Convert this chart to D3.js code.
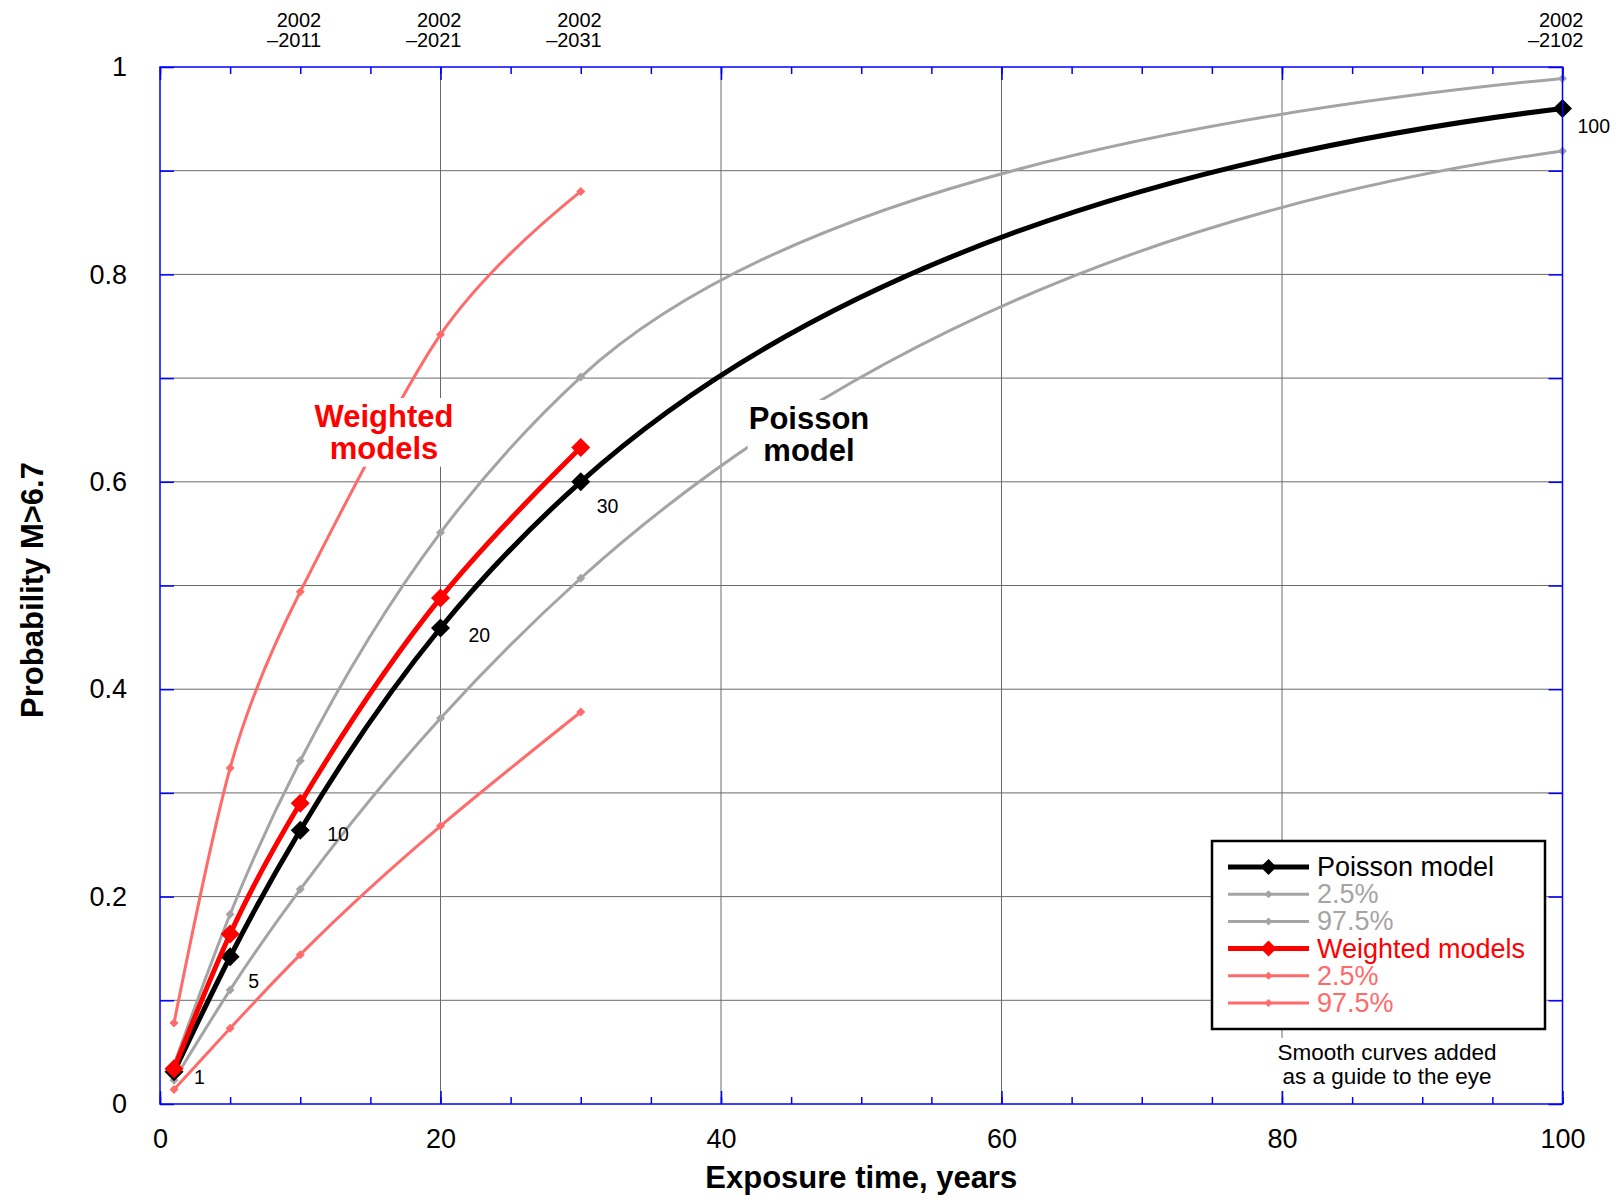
<!DOCTYPE html>
<html>
<head>
    <meta charset="utf-8">
    <style>
        body {
            margin: 0;
            background: #fff;
        }

        svg {
            display: block;
            font-family: 'Liberation Sans', Arial, Helvetica, sans-serif;
        }

        .grid line {
            stroke: #6a6a6a;
            stroke-width: 1px;
        }

        .frame {
            fill: none;
            stroke: #0000ff;
            stroke-width: 1.5px;
        }

        .ticks line {
            stroke: #0000ff;
            stroke-width: 1.5px;
        }

        .ticks .domain,
        .labels .domain {
            display: none;
        }

        .axis-title {
            font-weight: bold;
            font-size: 31px;
        }

        .point-label {
            font-size: 19.5px;
        }

        .period {
            font-size: 20px;
        }
    </style>
</head>

<body>
    <svg class="chart" width="1616" height="1204"></svg>

<script src="https://d3js.org/d3.v7.min.js"></script>

<script>
    // values
    const years = [1, 5, 10, 20, 30, 100];
    const poisson = [0.031, 0.142, 0.264, 0.459, 0.600, 0.960];
    const poissonLo = [0.023, 0.110, 0.207, 0.372, 0.507, 0.919];
    const poissonHi = [0.038, 0.183, 0.331, 0.551, 0.701, 0.989];

    const weightedYears = [1, 5, 10, 20, 30];
    const weighted = [0.034, 0.164, 0.290, 0.488, 0.633];
    const weightedLo = [0.014, 0.073, 0.144, 0.268, 0.378];
    const weightedHi = [0.078, 0.324, 0.494, 0.742, 0.880];

    const pointLabels = ["1", "5", "10", "20", "30", "100"];

    const periodYears = [10, 20, 30, 100];
    const periodLabels = [["2002", "\u20132011"], ["2002", "\u20132021"], ["2002", "\u20132031"], ["2002", "\u20132102"]];

    const xTicks = [0, 20, 40, 60, 80, 100];
    const xMinorTicks = d3.range(0, 101, 5);
    const yTicks = [0, 0.2, 0.4, 0.6, 0.8, 1];
    const yMinorTicks = d3.range(0, 11).map(d => d / 10);

    const legendNames = ["Poisson model", "2.5%", "97.5%", "Weighted models", "2.5%", "97.5%"];

    const width = 1616;
    const height = 1204;
    const margin = {top: 67, right: 53.5, bottom: 100, left: 160};

    const GRAY = "#a4a4a4";
    const PINK = "#ff6b6b";

    let svg = d3.select(".chart");

    let x = d3.scaleLinear()
        .domain([0, 100])
        .range([margin.left, width - margin.right]);

    let y = d3.scaleLinear()
        .domain([0, 1])
        .range([height - margin.bottom, margin.top]);

    // smooth curve through the points, as a function of x.
    // knot slopes come from a cubic spline (natural start; natural end, or
    // end slope = endFactor * last secant); each span is then drawn as the
    // quadratic that meets both tangents, so long spans stay concave.
    function curveSmoothX(endFactor) {
        return function(context) {
            let xs, ys;
            return {
                areaStart() {},
                areaEnd() {},
                lineStart() { xs = []; ys = []; },
                point(px, py) { xs.push(+px); ys.push(+py); },
                lineEnd() {
                    let n = xs.length;
                    if (!n) return;
                    context.moveTo(xs[0], ys[0]);
                    if (n < 3) {
                        if (n === 2) context.lineTo(xs[1], ys[1]);
                        return;
                    }
                    let h = [], d = [];
                    for (let i = 0; i < n - 1; i++) {
                        h.push(xs[i + 1] - xs[i]);
                        d.push((ys[i + 1] - ys[i]) / h[i]);
                    }
                    let a = [], b = [], c = [], r = [];
                    for (let i = 1; i <= n - 2; i++) {
                        a.push(h[i - 1]);
                        b.push(2 * (h[i - 1] + h[i]));
                        c.push(h[i]);
                        r.push(6 * (d[i] - d[i - 1]));
                    }
                    if (endFactor != null) {
                        let k = n - 2;
                        a.push(h[k]);
                        b.push(2 * h[k]);
                        c.push(0);
                        r.push(6 * (endFactor * d[k] - d[k]));
                    }
                    let m = b.length;
                    for (let i = 1; i < m; i++) {
                        let w = a[i] / b[i - 1];
                        b[i] -= w * c[i - 1];
                        r[i] -= w * r[i - 1];
                    }
                    let M = new Array(n).fill(0);
                    for (let i = m - 1; i >= 0; i--) {
                        M[i + 1] = (r[i] - (i < m - 1 ? c[i] * M[i + 2] : 0)) / b[i];
                    }
                    for (let i = 0; i < n - 1; i++) {
                        let x0 = xs[i], y0 = ys[i], x1 = xs[i + 1], y1 = ys[i + 1];
                        let s0 = d[i] - h[i] * (2 * M[i] + M[i + 1]) / 6;
                        let s1 = d[i] + h[i] * (M[i] + 2 * M[i + 1]) / 6;
                        let xc = Math.abs(s0 - s1) > 1e-9 ? (y1 - y0 + s0 * x0 - s1 * x1) / (s0 - s1) : NaN;
                        if (xc > x0 + 0.05 * h[i] && xc < x1 - 0.05 * h[i]) {
                            let yc = y0 + s0 * (xc - x0);
                            context.bezierCurveTo(
                                x0 + 2 / 3 * (xc - x0), y0 + 2 / 3 * (yc - y0),
                                x1 + 2 / 3 * (xc - x1), y1 + 2 / 3 * (yc - y1),
                                x1, y1);
                        } else {
                            let k = h[i] / 3;
                            context.bezierCurveTo(x0 + k, y0 + s0 * k, x1 - k, y1 - s1 * k, x1, y1);
                        }
                    }
                }
            };
        };
    }

    // grid
    let grid = svg.append("g").attr("class", "grid");

    grid.selectAll(".vline")
        .data(xTicks.slice(1, -1))
        .join("line")
        .attr("x1", d => x(d))
        .attr("x2", d => x(d))
        .attr("y1", y(0))
        .attr("y2", y(1));

    grid.selectAll(".hline")
        .data(yMinorTicks.slice(1, -1))
        .join("line")
        .attr("x1", x(0))
        .attr("x2", x(100))
        .attr("y1", d => y(d))
        .attr("y2", d => y(d));

    // series
    let series = [
        {xs: years, ys: poissonLo, color: GRAY, width: 3, r: 4.5, end: 0.32},
        {xs: years, ys: poissonHi, color: GRAY, width: 3, r: 4.5, end: 0.32},
        {xs: weightedYears, ys: weightedLo, color: PINK, width: 3, r: 4.5, end: null},
        {xs: weightedYears, ys: weightedHi, color: PINK, width: 3, r: 4.5, end: null},
        {xs: years, ys: poisson, color: "#000", width: 5, r: 9.5, end: 0.32},
        {xs: weightedYears, ys: weighted, color: "#ff0000", width: 5, r: 9.5, end: null}
    ];

    let diamond = r => `M0,${-r}L${r},0L0,${r}L${-r},0Z`;

    series.forEach(function(s) {
        let pts = s.xs.map((v, i) => [v, s.ys[i]]);
        let g = svg.append("g");

        let line = d3.line()
            .x(d => x(d[0]))
            .y(d => y(d[1]))
            .curve(curveSmoothX(s.end));

        g.append("path")
            .attr("d", line(pts))
            .style("fill", "none")
            .style("stroke", s.color)
            .style("stroke-width", s.width + "px")
            .style("stroke-linejoin", "round");

        g.selectAll("path.pt")
            .data(pts)
            .join("path")
            .attr("class", "pt")
            .attr("d", diamond(s.r))
            .attr("transform", d => `translate(${x(d[0])},${y(d[1])})`)
            .style("fill", s.color);
    });

    // numbers next to the poisson points
    let labelOffsets = [[20, 12], [18, 31], [27, 11], [28, 14], [16, 31], [15, 25]];

    svg.append("g")
        .selectAll("text")
        .data(pointLabels)
        .join("text")
        .attr("class", "point-label")
        .attr("x", (d, i) => x(years[i]) + labelOffsets[i][0])
        .attr("y", (d, i) => y(poisson[i]) + labelOffsets[i][1])
        .text(d => d);

    // text with white backing box
    function boxedText(lines, cx, y0, lineH, opts) {
        let g = svg.append("g");
        let rect = g.append("rect").style("fill", "#fff");
        let t = g.append("text")
            .attr("text-anchor", "middle")
            .style("font-size", opts.size + "px")
            .style("font-weight", opts.weight || "normal")
            .style("fill", opts.color || "#000");
        lines.forEach(function(l, i) {
            t.append("tspan")
                .attr("x", cx)
                .attr("y", y0 + i * lineH)
                .text(l);
        });
        let bb = t.node().getBBox();
        let p = opts.pad || 0;
        rect.attr("x", bb.x - p)
            .attr("y", bb.y - p)
            .attr("width", bb.width + 2 * p)
            .attr("height", bb.height + 2 * p);
    }

    boxedText(["Weighted", "models"], 384, 427, 31.6, {size: 31, weight: "bold", color: "#ff0000", pad: 1});
    boxedText(["Poisson", "model"], 809, 429, 31.6, {size: 31, weight: "bold", color: "#000", pad: 1});

    // legend
    let legend = svg.append("g");

    legend.append("rect")
        .attr("x", 1212)
        .attr("y", 841)
        .attr("width", 333)
        .attr("height", 188)
        .style("fill", "#fff")
        .style("stroke", "#000")
        .style("stroke-width", "2.5px");

    let legendItems = legendNames.map((name, i) => ({
        name: name,
        color: [series[4], series[0], series[1], series[5], series[2], series[3]][i].color,
        width: [5, 3, 3, 5, 3, 3][i],
        r: [8, 4, 4, 8, 4, 4][i]
    }));

    let rows = legend.selectAll(".row")
        .data(legendItems)
        .join("g")
        .attr("transform", (d, i) => `translate(1228, ${867 + i * 27.2})`);

    rows.append("line")
        .attr("x1", 0)
        .attr("x2", 81)
        .style("stroke", d => d.color)
        .style("stroke-width", d => d.width + "px");

    rows.append("path")
        .attr("d", d => diamond(d.r))
        .attr("transform", "translate(40.5,0)")
        .style("fill", d => d.color);

    rows.append("text")
        .attr("x", 89)
        .attr("y", 9)
        .style("font-size", "27px")
        .style("fill", d => d.color)
        .text(d => d.name);

    boxedText(["Smooth curves added", "as a guide to the eye"], 1387, 1060, 24, {size: 22.5, pad: 2});

    // ticks on all four sides, pointing inward
    svg.append("g")
        .attr("class", "ticks")
        .attr("transform", `translate(${x(0)},0)`)
        .call(d3.axisRight(y).tickValues(yMinorTicks).tickSize(14).tickFormat(""));

    svg.append("g")
        .attr("class", "ticks")
        .attr("transform", `translate(${x(100)},0)`)
        .call(d3.axisLeft(y).tickValues(yMinorTicks).tickSize(14).tickFormat(""));

    [[d3.axisTop, y(0)], [d3.axisBottom, y(1)]].forEach(function(a) {
        svg.append("g")
            .attr("class", "ticks")
            .attr("transform", `translate(0,${a[1]})`)
            .call(a[0](x).tickValues(xMinorTicks).tickSize(7).tickFormat(""));
        svg.append("g")
            .attr("class", "ticks")
            .attr("transform", `translate(0,${a[1]})`)
            .call(a[0](x).tickValues(xTicks).tickSize(13).tickFormat(""));
    });

    svg.append("rect")
        .attr("class", "frame")
        .attr("x", x(0))
        .attr("y", y(1))
        .attr("width", x(100) - x(0))
        .attr("height", y(0) - y(1));

    // tick labels
    svg.append("g")
        .attr("class", "labels")
        .attr("transform", `translate(${x(0)},0)`)
        .call(d3.axisLeft(y).tickValues(yTicks).tickSize(0).tickPadding(33).tickFormat(d => d));

    svg.append("g")
        .attr("class", "labels")
        .attr("transform", `translate(0,${y(0)})`)
        .call(d3.axisBottom(x).tickValues(xTicks).tickSize(0).tickPadding(25).tickFormat(d => d));

    svg.selectAll(".labels text")
        .attr("font-family", null)
        .style("font-size", "27px")
        .style("fill", "#000");

    // period labels on top
    let periods = svg.append("g")
        .selectAll("text")
        .data(periodLabels)
        .join("text")
        .attr("class", "period")
        .attr("text-anchor", "end");

    periods.each(function(d, i) {
        let t = d3.select(this);
        d.forEach(function(l, j) {
            t.append("tspan")
                .attr("x", x(periodYears[i]) + 21)
                .attr("y", 27 + j * 20)
                .text(l);
        });
    });

    // axis titles
    svg.append("text")
        .attr("class", "axis-title")
        .attr("text-anchor", "middle")
        .attr("x", (x(0) + x(100)) / 2)
        .attr("y", 1188)
        .text("Exposure time, years");

    svg.append("text")
        .attr("class", "axis-title")
        .attr("text-anchor", "middle")
        .attr("transform", "translate(43,590) rotate(-90)")
        .text("Probability M>6.7");
</script>
</body>
</html>
